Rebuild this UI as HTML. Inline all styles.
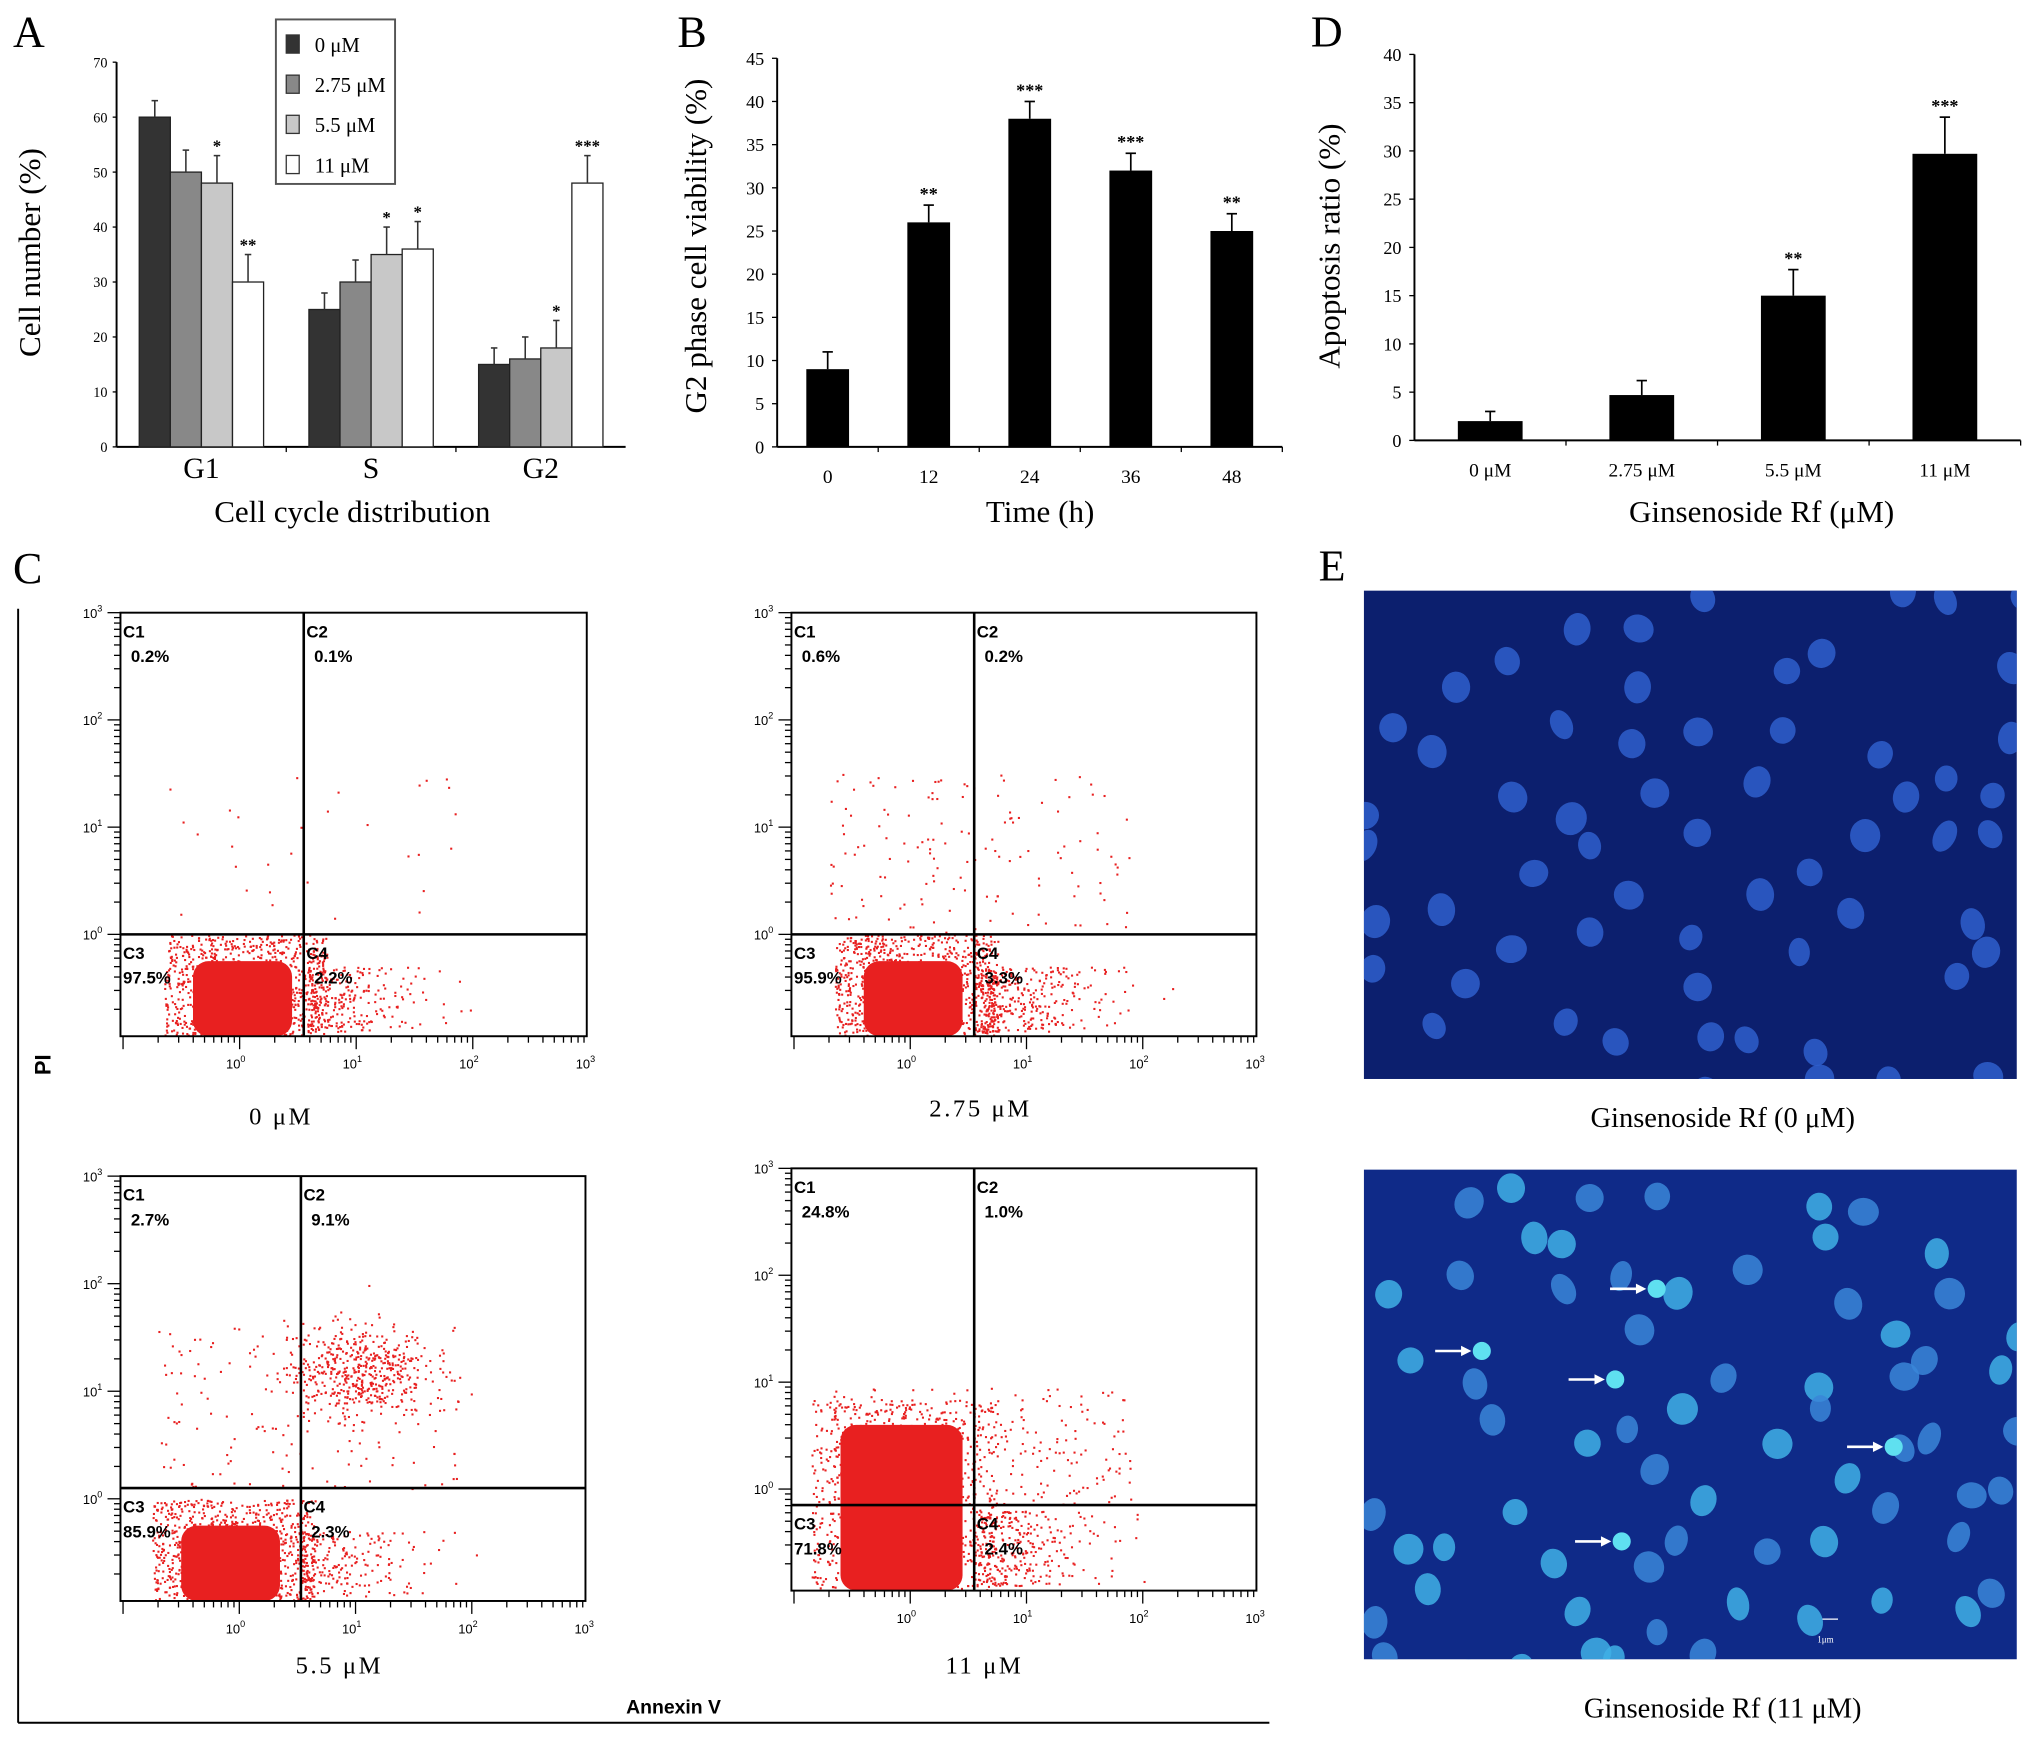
<!DOCTYPE html>
<html><head><meta charset="utf-8"><style>
html,body{margin:0;padding:0;background:#fff;}
svg{display:block;}
text{font-family:"Liberation Serif",serif;fill:#000;}
.ss{font-family:"Liberation Sans",sans-serif;}
</style></head><body>
<svg id="fig" width="2031" height="1748" viewBox="0 0 1568 1349.5" xmlns="http://www.w3.org/2000/svg">
<g id="pA"></g>
<g id="pB"></g>
<g id="pD"></g>
<g id="pC"></g>
<g id="pE"></g>
</svg>
<script>
// ---- Panel A data ----
const aCategories = ["G1","S","G2"];
const aSeriesNames = ["0 μM","2.75 μM","5.5 μM","11 μM"];
const aValues = [[60,50,48,30],[25,30,35,36],[15,16,18,48]];
const aErrors = [[3,4,5,5],[3,4,5,5],[3,4,5,5]];
const aStars = [["","","*","**"],["","","*","*"],["","","*","***"]];
const aTicks = [0,10,20,30,40,50,60,70];
// ---- Panel B data ----
const bCategories = ["0","12","24","36","48"];
const bValues = [9,26,38,32,25];
const bErrors = [2,2,2,2,2];
const bStars = ["","**","***","***","**"];
const bTicks = [0,5,10,15,20,25,30,35,40,45];
// ---- Panel D data ----
const dCategories = ["0 μM","2.75 μM","5.5 μM","11 μM"];
const dValues = [2,4.7,15,29.7];
const dErrors = [1,1.5,2.7,3.8];
const dStars = ["","","**","***"];
const dTicks = [0,5,10,15,20,25,30,35,40];
// ---- Panel C data (quadrant percentages and cluster estimates, log10 units) ----
const cLabels = ["0 μM","2.75 μM","5.5 μM","11 μM"];
const cPercents = [["0.2%","0.1%","97.5%","2.2%"],["0.6%","0.2%","95.9%","3.3%"],["2.7%","9.1%","85.9%","2.3%"],["24.8%","1.0%","71.8%","2.4%"]];
const cGateX = [0.55,0.55,0.53,0.55];
const cGateY = [0,0,0.1,-0.15];
const cCoreX0 = [-0.4,-0.4,-0.5,-0.6];
const cCoreX1 = [0.45,0.45,0.35,0.45];
const cCoreTop = [-0.25,-0.25,-0.25,0.6];
const cC4N = [250,350,200,300];
const cSparseN = [30,140,160,250];
const cUpperN = [0,0,500,0];

const NS="http://www.w3.org/2000/svg";
function el(parent,tag,attrs,txt){const e=document.createElementNS(NS,tag);for(const k in attrs)e.setAttribute(k,attrs[k]);if(txt!==undefined)e.textContent=txt;parent.appendChild(e);return e;}
let seed=12345;function rnd(){seed=(seed*1103515245+12345)%2147483648;return seed/2147483648;}
function gauss(){let u=rnd()||1e-6,v=rnd();return Math.sqrt(-2*Math.log(u))*Math.cos(2*Math.PI*v);}

// ===== Panel A =====
(function(){
const g=document.getElementById('pA');
const x0=90,x1=483,yTop=48,yBot=345,max=70;
const y=v=>yBot-(v/max)*(yBot-yTop);
let t=el(g,'text',{x:10,y:36,'font-size':34});t.textContent='A';

el(g,'line',{x1:x0,y1:yTop,x2:x0,y2:yBot,stroke:'#000','stroke-width':1.5});
el(g,'line',{x1:x0,y1:yBot,x2:x1,y2:yBot,stroke:'#000','stroke-width':1.5});
aTicks.forEach(v=>{el(g,'line',{x1:x0-3,y1:y(v),x2:x0,y2:y(v),stroke:'#000'});
 const tl=el(g,'text',{x:x0-7,y:y(v)+4,'font-size':11,'text-anchor':'end'},v);
 });
const fills=['#333','#888','#c8c8c8','#fff'];
const band=(x1-x0)/3,bw=24;
aCategories.forEach((c,i)=>{
 const gx=x0+band*i+(band-4*bw)/2;
 if(i>0)el(g,'line',{x1:x0+band*i,y1:yBot,x2:x0+band*i,y2:yBot+4,stroke:'#000'});
 aValues[i].forEach((v,j)=>{
  const bx=gx+j*bw;
  const r=el(g,'rect',{x:bx,y:y(v),width:bw,height:yBot-y(v),fill:fills[j],stroke:'#222','stroke-width':1});
  
  const ey=y(v+aErrors[i][j]);
  el(g,'line',{x1:bx+bw/2,y1:y(v),x2:bx+bw/2,y2:ey,stroke:'#333','stroke-width':1.2});
  el(g,'line',{x1:bx+bw/2-2.5,y1:ey,x2:bx+bw/2+2.5,y2:ey,stroke:'#333','stroke-width':1.2});
  if(aStars[i][j]){const s=el(g,'text',{x:bx+bw/2,y:ey-3,'font-size':13,'text-anchor':'middle','font-weight':'bold'},aStars[i][j]);
   }
 });
 const cl=el(g,'text',{x:x0+band*i+band/2,y:369,'font-size':23,'text-anchor':'middle'},c);
 
});
const yl=el(g,'text',{x:0,y:0,'font-size':24,'text-anchor':'middle',transform:'translate(31,195) rotate(-90)'},'Cell number (%)');

const xl=el(g,'text',{x:272,y:403,'font-size':24,'text-anchor':'middle'},'Cell cycle distribution');

const lg=el(g,'g',{});
el(lg,'rect',{x:213,y:15,width:92,height:127,fill:'#fff',stroke:'#555','stroke-width':1.5});
aSeriesNames.forEach((n,j)=>{const yy=34+j*31;
 const le=el(lg,'g',{});
 el(le,'rect',{x:221,y:yy-7,width:10,height:14,fill:fills[j],stroke:'#333'});
 el(le,'text',{x:243,y:yy+6,'font-size':16},n);});
})();

// ===== generic single-series bar chart =====
function barChart(gid,cats,vals,errs,stars,ticks,o){
 const g=document.getElementById(gid);
 const y=v=>o.yBot-(v/o.max)*(o.yBot-o.yTop);
 const t=el(g,'text',{x:o.lx,y:o.ly,'font-size':34},o.letter);
 
 el(g,'line',{x1:o.x0,y1:o.yTop,x2:o.x0,y2:o.yBot,stroke:'#000','stroke-width':1.5});
 el(g,'line',{x1:o.x0,y1:o.yBot,x2:o.x1,y2:o.yBot,stroke:'#000','stroke-width':1.5});
 ticks.forEach(v=>{el(g,'line',{x1:o.x0-4,y1:y(v),x2:o.x0,y2:y(v),stroke:'#000'});
  const tl=el(g,'text',{x:o.x0-10,y:y(v)+5,'font-size':14,'text-anchor':'end'},v);
  });
 const band=(o.x1-o.x0)/cats.length;
 cats.forEach((c,i)=>{
  const cx=o.x0+band*(i+0.5),v=vals[i];
  el(g,'line',{x1:o.x0+band*(i+1),y1:o.yBot,x2:o.x0+band*(i+1),y2:o.yBot+4,stroke:'#000'});
  const r=el(g,'rect',{x:cx-o.bw/2,y:y(v),width:o.bw,height:o.yBot-y(v),fill:'#000'});
  
  const ey=y(v+errs[i]);
  el(g,'line',{x1:cx,y1:y(v),x2:cx,y2:ey,stroke:'#000','stroke-width':1.3});
  el(g,'line',{x1:cx-4,y1:ey,x2:cx+4,y2:ey,stroke:'#000','stroke-width':1.3});
  if(stars[i]){const s=el(g,'text',{x:cx,y:ey-4,'font-size':14,'text-anchor':'middle','font-weight':'bold'},stars[i]);
   }
  const cl=el(g,'text',{x:cx,y:o.yBot+28,'font-size':15,'text-anchor':'middle'},c);
  
 });
 const yl=el(g,'text',{x:0,y:0,'font-size':24,'text-anchor':'middle',transform:'translate('+o.ytx+',190) rotate(-90)'},o.ytitle);
 
 const xl=el(g,'text',{x:o.xtx,y:403,'font-size':24,'text-anchor':'middle'},o.xtitle);
 
}
barChart('pB',bCategories,bValues,bErrors,bStars,bTicks,{letter:'B',lx:523,ly:36,x0:600,x1:990,yTop:45,yBot:345,max:45,bw:33,ytx:545,ytitle:'G2 phase cell viability (%)',xtx:803,xtitle:'Time (h)'});
barChart('pD',dCategories,dValues,dErrors,dStars,dTicks,{letter:'D',lx:1012,ly:36,x0:1092,x1:1560,yTop:42,yBot:340,max:40,bw:50,ytx:1034,ytitle:'Apoptosis ratio (%)',xtx:1360,xtitle:'Ginsenoside Rf (μM)'});

// ===== Panel C =====
(function(){
const g=document.getElementById('pC');
let t=el(g,'text',{x:10,y:450,'font-size':34},'C');
el(g,'line',{x1:14,y1:470,x2:14,y2:1330,stroke:'#000','stroke-width':1.5});
el(g,'line',{x1:14,y1:1330,x2:980,y2:1330,stroke:'#000','stroke-width':1.5});
t=el(g,'text',{x:0,y:0,'font-size':17,'font-weight':'bold','text-anchor':'middle',class:'ss',transform:'translate(39,822) rotate(-90)'},'PI');

t=el(g,'text',{x:520,y:1323,'font-size':15,'font-weight':'bold','text-anchor':'middle',class:'ss'},'Annexin V');

const boxes=[[93,473,453,800],[611,473,970,800],[93,908,452,1236],[611,902,970,1228]];
const capX=[217,757,262,760];
const capY=[868,862,1292,1292];
boxes.forEach((b,k)=>{
 const [L,T,R,B]=b;
 const pg=el(g,'g',{});
 const dy=(B-T)/3.95, dx=(R-L)/4.0;
 const X=v=>L+92*(R-L)/360+v*dx;
 const Y=v=>T+(3-v)*dy;
 const clipId='clip'+k;const cp=el(pg,'clipPath',{id:clipId});el(cp,'rect',{x:L,y:T,width:R-L,height:B-T});
 const dots=el(pg,'g',{fill:'#e82020','clip-path':'url(#'+clipId+')'});
 function dot(lx,ly){const px=X(lx),py=Y(ly);if(px<L||px>R||py<T||py>B-1)return;el(dots,'rect',{x:px,y:py,width:1.6,height:1.6});}
 const bottom=-0.95;
 // halo around dense core
 for(let i=0;i<900;i++){dot(cCoreX0[k]-0.25+rnd()*(cCoreX1[k]-cCoreX0[k]+0.55),bottom+rnd()*(cCoreTop[k]-bottom+0.25));}
 // C4 spread
 for(let i=0;i<cC4N[k];i++){dot(cGateX[k]+Math.abs(gauss())*0.5,bottom+0.05+rnd()*(Math.min(cGateY[k],cCoreTop[k])-bottom-0.1));}
 // sparse upper scatter
 for(let i=0;i<cSparseN[k];i++){dot(-0.7+rnd()*2.6,cGateY[k]+rnd()*(k==3?1.1:1.5));}
 for(let i=0;i<cUpperN[k];i++){dot(1.0+gauss()*0.3,1.2+gauss()*0.22);}
 // dense core
 const cr=el(pg,'rect',{x:X(cCoreX0[k]),y:Y(cCoreTop[k]),width:X(cCoreX1[k])-X(cCoreX0[k]),height:B-Y(cCoreTop[k]),rx:12,fill:'#e82020','clip-path':'url(#'+clipId+')'});
 
 el(pg,'rect',{x:L,y:T,width:R-L,height:B-T,fill:'none',stroke:'#000','stroke-width':1.5});
 const gx=X(cGateX[k]),gy=Y(cGateY[k]);
 el(pg,'line',{x1:gx,y1:T,x2:gx,y2:B,stroke:'#000','stroke-width':2});
 el(pg,'line',{x1:L,y1:gy,x2:R,y2:gy,stroke:'#000','stroke-width':2});
 for(let d=0;d<4;d++){const yy=Y(3-d);el(pg,'line',{x1:L-10,y1:yy,x2:L,y2:yy,stroke:'#000'});
  for(let m=2;m<10;m++){const y2=Y(3-d-1+Math.log10(m));if(y2<B)el(pg,'line',{x1:L-5,y1:y2,x2:L,y2:y2,stroke:'#000'});}
  const tl=el(pg,'text',{x:L-14,y:yy+4,'font-size':10,'text-anchor':'end',class:'ss'});tl.textContent='10';
  el(tl,'tspan',{dy:-5,'font-size':7},String(3-d));}
 for(let d=-1;d<4;d++){for(let m=1;m<10;m++){const xx=X(d+Math.log10(m));if(xx>L&&xx<=R)el(pg,'line',{x1:xx,y1:B,x2:xx,y2:B+(m==1?10:5),stroke:'#000'});}}
 for(let d=0;d<4;d++){const tl=el(pg,'text',{x:X(d)-3,y:B+25,'font-size':10,'text-anchor':'middle',class:'ss'});tl.textContent='10';el(tl,'tspan',{dy:-5,'font-size':7},String(d));}
 const q=[['C1',L+2,T+19,L+8,T+38],['C2',gx+2,T+19,gx+8,T+38],['C3',L+2,gy+19,L+2,gy+38],['C4',gx+2,gy+19,gx+8,gy+38]];
 q.forEach((qq,i)=>{const a=el(pg,'text',{x:qq[1],y:qq[2],'font-size':13,'font-weight':'bold',class:'ss'},qq[0]);
  
  const p=el(pg,'text',{x:qq[3],y:qq[4],'font-size':13,'font-weight':'bold',class:'ss'},cPercents[k][i]);
  });
 const cl=el(pg,'text',{x:capX[k],y:capY[k],'font-size':19,'text-anchor':'middle','letter-spacing':'2'},cLabels[k]);
 
});
})();

// ===== Panel E =====
(function(){
const g=document.getElementById('pE');
let t=el(g,'text',{x:1018,y:448,'font-size':34},'E');
const imgs=[[1053,456,504,377,'#0c1f6e','#2f5fcc','Ginsenoside Rf  (0 μM)',870],[1053,903,504,378,'#0f2a88','#3a86d8','Ginsenoside Rf (11 μM)',1326]];
imgs.forEach((im,k)=>{
 const [L,T,W,H,bg,nc,cap,cy]=im;
 const ig=el(g,'g',{});
 el(ig,'rect',{x:L,y:T,width:W,height:H,fill:bg});
 const cid='eclip'+k;const cp=el(ig,'clipPath',{id:cid});el(cp,'rect',{x:L,y:T,width:W,height:H});
 const ng=el(ig,'g',{'clip-path':'url(#'+cid+')'});
 seed=777+k*91;
 for(let gy=0;gy<H;gy+=46){for(let gx=0;gx<W;gx+=48){
  if(rnd()<0.3)continue;
  const cx=L+gx+rnd()*40,cyy=T+gy+rnd()*38;
  const bright=k==1&&rnd()<0.4;
  el(ng,'ellipse',{cx:cx,cy:cyy,rx:8+rnd()*4,ry:10+rnd()*3,fill:bright?'#3fb0e6':nc,opacity:0.85,transform:'rotate('+(rnd()*60-30)+' '+cx+' '+cyy+')'});
 }}
 if(k==1){[[1243,995],[1108,1043],[1211,1065],[1426,1117],[1216,1190]].forEach(a=>{
  const ar=el(ig,'g',{});
  el(ar,'line',{x1:a[0],y1:a[1],x2:a[0]+22,y2:a[1],stroke:'#fff','stroke-width':2});
  el(ar,'path',{d:'M'+(a[0]+28)+' '+a[1]+' l-8 -4 l0 8 z',fill:'#fff'});
  el(ar,'circle',{cx:a[0]+36,cy:a[1],r:7,fill:'#5fe0f0'});});
  el(ig,'line',{x1:1407,y1:1250,x2:1419,y2:1250,stroke:'#fff'});
  el(ig,'text',{x:1403,y:1268,'font-size':7,style:'fill:#fff'},'1μm');}
 const c=el(g,'text',{x:L+W/2+25,y:cy,'font-size':22,'text-anchor':'middle'},cap);
 
});
})();
</script>
</body></html>
